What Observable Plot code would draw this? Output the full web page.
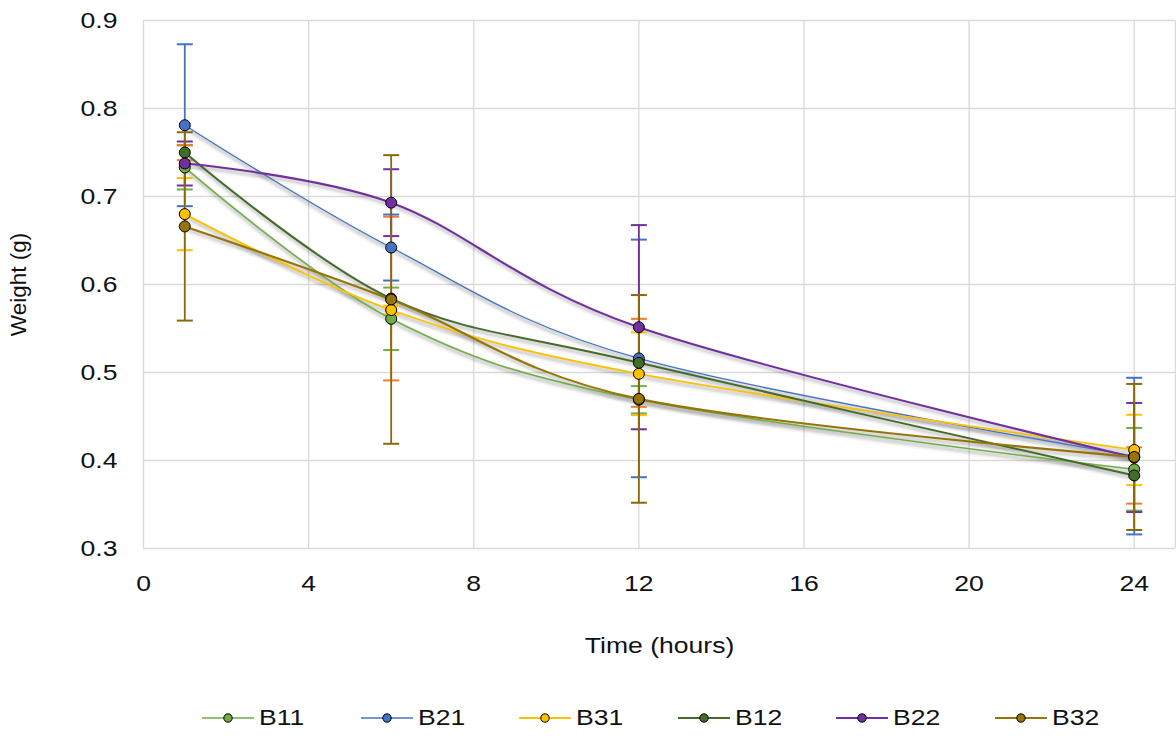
<!DOCTYPE html>
<html><head><meta charset="utf-8">
<script src="https://cdn.jsdelivr.net/npm/d3@7"></script>
<script src="https://cdn.jsdelivr.net/npm/@observablehq/plot@0.6"></script>
<style>
body{margin:0;background:#fff;font-family:"Liberation Sans",Arial,sans-serif;}
#chart{width:1176px;height:738px;position:relative;overflow:hidden;background:#fff}
#legend{position:relative;height:48px;width:1176px}
.item{position:absolute;top:13px;height:30px;display:flex;align-items:center}
.item span{font-size:22.5px;color:#111;display:inline-block;transform:scaleX(1.18);transform-origin:left center;margin-left:5px}
</style></head><body><div id="chart"></div>
<script>
// ---- data ----
const times = [1, 6, 12, 24];
const seriesNames = ["B11", "B21", "B31", "B12", "B22", "B32"];
const B11 = [0.733, 0.561, 0.469, 0.390];
const B21 = [0.781, 0.642, 0.516, 0.405];
const B31 = [0.680, 0.571, 0.4985, 0.412];
const B12 = [0.750, 0.584, 0.511, 0.383];
const B22 = [0.7375, 0.693, 0.5515, 0.4034];
const B32 = [0.666, 0.583, 0.470, 0.404];
const errB11 = [0.025, 0.0355, 0.0155, 0.047];
const errB21 = [0.092, 0.0375, 0.135, 0.089];
const errB31 = [0.041, 0.005, 0.047, 0.040];
const errB12 = [0.0087, 0.093, 0.050, 0.032];
const errB22 = [0.025, 0.038, 0.116, 0.062];
const errB32 = [0.107, 0.164, 0.118, 0.083];
const xTicks = [0, 4, 8, 12, 16, 20, 24];
const yTicks = [0.3, 0.4, 0.5, 0.6, 0.7, 0.8, 0.9];

// ---- styles ----
const lineColors = ["#70AD47", "#4472C4", "#FFC000", "#436B2A", "#7030A0", "#977407"];
const errColors  = ["#70AD47", "#4472C4", "#FFC000", "#ED7D31", "#7030A0", "#8A6A08"];
const lineWidths = [1.6, 1.3, 1.8, 2, 2.1, 2.1];

const values = [B11, B21, B31, B12, B22, B32];
const errs = [errB11, errB21, errB31, errB12, errB22, errB32];
const rows = [];
seriesNames.forEach((s, i) => times.forEach((t, j) => rows.push({
  series: s, idx: i, t, v: values[i][j], lo: values[i][j] - errs[i][j], hi: values[i][j] + errs[i][j]
})));

const capSymbol = {draw(ctx, size) { const w = Math.sqrt(size / Math.PI); ctx.moveTo(-w, 0); ctx.lineTo(w, 0); }};

const marks = [
  Plot.gridX([...xTicks, 25], {stroke: "#d9d9d9", strokeOpacity: 1, strokeWidth: 1.3}),
  Plot.gridY(yTicks, {stroke: "#d9d9d9", strokeOpacity: 1, strokeWidth: 1.3}),
  Plot.axisX(xTicks, {tickSize: 0, tickPadding: 27, label: null, fontSize: 22.5, fill: "#111"}),
  Plot.axisY(yTicks, {tickSize: 0, tickPadding: 26, label: null, fontSize: 22.5, fill: "#111", tickFormat: d => d.toFixed(1)}),
  Plot.text(["Time (hours)"], {frameAnchor: "bottom", dy: 97, lineAnchor: "middle", textAnchor: "middle", fontSize: 22.5, fill: "#111"}),
  Plot.text(["Weight (g)"], {frameAnchor: "left", dx: -125, rotate: -90, lineAnchor: "middle", textAnchor: "middle", fontSize: 22.5, fill: "#111"})
];
// shadows
[[8, 0.035], [5, 0.05], [3, 0.06]].forEach(([w, o]) => {
  marks.push(Plot.line(rows, {x: "t", y: "v", z: "series", curve: "cardinal", tension: 0, stroke: "#000", strokeOpacity: o, strokeWidth: w, dy: 3, dx: 1}));
});
// error bars
seriesNames.forEach((s, i) => {
  const d = rows.filter(r => r.series === s);
  marks.push(Plot.ruleX(d, {x: "t", y1: "lo", y2: "hi", stroke: errColors[i], strokeWidth: 1.8}));
  marks.push(Plot.dot(d, {x: "t", y: "lo", symbol: capSymbol, r: 8, stroke: errColors[i], strokeWidth: 2, fill: "none"}));
  marks.push(Plot.dot(d, {x: "t", y: "hi", symbol: capSymbol, r: 8, stroke: errColors[i], strokeWidth: 2, fill: "none"}));
});
// lines
seriesNames.forEach((s, i) => {
  const d = rows.filter(r => r.series === s);
  marks.push(Plot.line(d, {x: "t", y: "v", curve: "cardinal", tension: 0, stroke: lineColors[i], strokeWidth: lineWidths[i]}));
});
// markers
seriesNames.forEach((s, i) => {
  const d = rows.filter(r => r.series === s);
  marks.push(Plot.dot(d, {x: "t", y: "v", r: 5.5, fill: lineColors[i], stroke: "#000", strokeWidth: 1}));
});

const svg = Plot.plot({
  width: 1176, height: 690,
  marginTop: 20, marginBottom: 142, marginLeft: 143, marginRight: 1,
  x: {domain: [0, 25]},
  y: {domain: [0.3, 0.9]},
  style: {fontFamily: "'Liberation Sans', Arial, sans-serif", fontSize: "22.5px", background: "#fff", color: "#111"},
  marks
});
const chart = document.getElementById("chart");
chart.appendChild(svg);
// horizontal stretch of texts to match the reference's wide lettering
svg.querySelectorAll("text").forEach(t => {
  const tr = t.getAttribute("transform") || "";
  if (tr.includes("rotate")) return;
  const w = t.getComputedTextLength();
  if (w > 0) { t.setAttribute("textLength", w * 1.18); t.setAttribute("lengthAdjust", "spacingAndGlyphs"); }
});

// legend
const legend = document.createElement("div");
legend.id = "legend";
seriesNames.forEach((s, i) => {
  const item = document.createElement("div");
  item.className = "item";
  item.style.left = (202 + i * 158.6) + "px";
  item.innerHTML = `<svg width="52" height="30"><line x1="0" x2="52" y1="15" y2="15" stroke="${lineColors[i]}" stroke-width="${Math.max(1.5, lineWidths[i])}"/><circle cx="26" cy="15" r="4.2" fill="${lineColors[i]}" stroke="#000" stroke-width="1"/></svg><span>${s}</span>`;
  legend.appendChild(item);
});
chart.appendChild(legend);
</script></body></html>
